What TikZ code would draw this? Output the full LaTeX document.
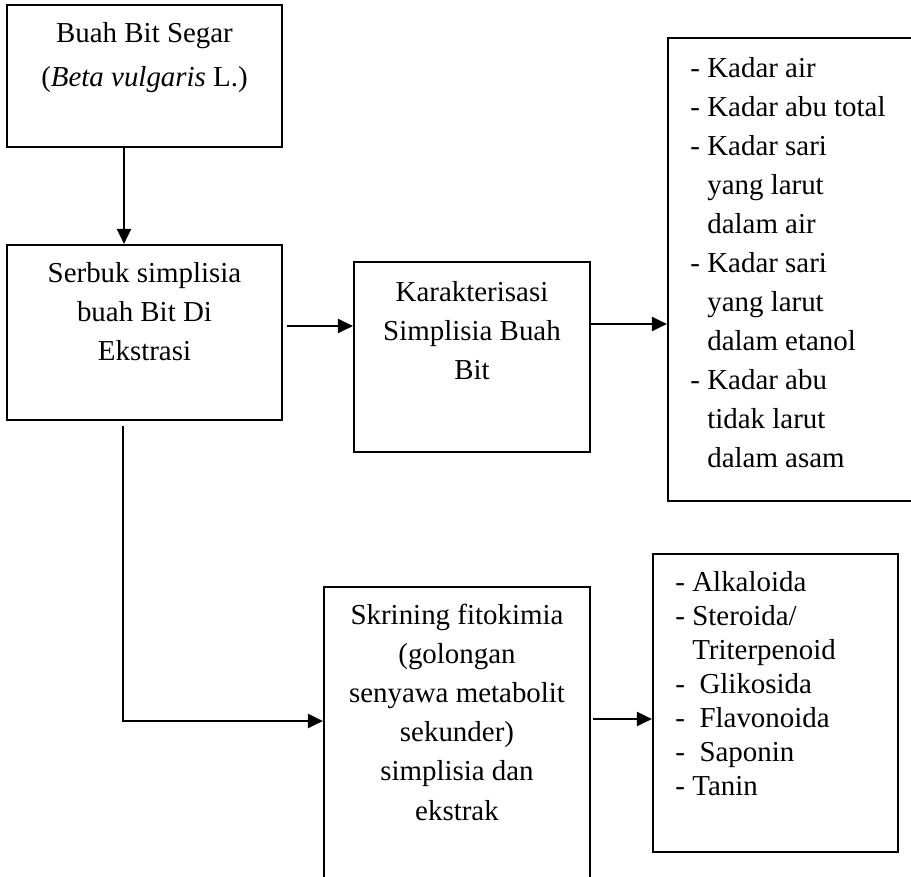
\documentclass[tikz,border=0pt]{standalone}
\usepackage{fontspec}
\setmainfont{Liberation Serif}
\usetikzlibrary{arrows.meta}
\newdimen\pxl
\pxl=0.415pt

\begin{document}
\begin{tikzpicture}[x=0.415pt, y=-0.415pt,
  kotak/.style={draw, line width=0.9pt, inner sep=0pt},
  teks/.style={inner sep=0pt, anchor=north, align=center, font=\fontsize{12}{#1}\selectfont},
  teks/.default=16.2pt,
  daftar/.style={inner sep=0pt, anchor=north west, align=left, font=\fontsize{12}{#1}\selectfont},
  panah/.style={line width=1pt, -{Triangle[length=6.2pt, width=5.8pt]}}]
  \useasboundingbox (0,0) rectangle (911,877);
  \clip (0,0) rectangle (911,877);

  % Kotak
  \node[kotak, minimum width=275\pxl, minimum height=142\pxl] (buah) at (144.5,76) {};
  \node[kotak, minimum width=275\pxl, minimum height=175\pxl] (serbuk) at (144.5,332.5) {};
  \node[kotak, minimum width=236\pxl, minimum height=190\pxl] (karak) at (472,357) {};
  \node[kotak, minimum width=272\pxl, minimum height=463\pxl] (kadar) at (804,269.5) {};
  \node[kotak, minimum width=266\pxl, minimum height=318\pxl] (skrin) at (457,746) {};
  \node[kotak, minimum width=245\pxl, minimum height=298\pxl] (senyawa) at (775.5,703) {};

  % Teks
  \node[teks=18.3pt] (tbuah) at (144.5,22) {Buah Bit Segar\\(\textit{Beta vulgaris} L.)};
  \node[teks] (tserbuk) at (144.5,262) {Serbuk simplisia\\buah Bit Di\\Ekstrasi};
  \node[teks] (tkarak) at (472,281) {Karakterisasi\\Simplisia Buah\\Bit};
  \node[teks] (tskrin) at (457,604) {Skrining fitokimia\\(golongan\\senyawa metabolit\\sekunder)\\simplisia dan\\ekstrak};
  \node[daftar=16.2pt] (tkadar) at (690,57) {- Kadar air\\- Kadar abu total\\- Kadar sari\\
    \phantom{- }yang larut\\\phantom{- }dalam air\\- Kadar sari\\\phantom{- }yang larut\\
    \phantom{- }dalam etanol\\- Kadar abu\\\phantom{- }tidak larut\\\phantom{- }dalam asam};
  \node[daftar=14.1pt] (tsenyawa) at (675,571) {- Alkaloida\\- Steroida/\\\phantom{- }Triterpenoid\\
    -\ \ Glikosida\\-\ \ Flavonoida\\-\ \ Saponin\\- Tanin};

  % Titik bantu panah
  \coordinate (p1) at ([shift={(4,-6.5)}]serbuk.east);
  \coordinate (p2) at ([yshift=33\pxl]karak.east);
  \coordinate (p3) at ([shift={(-21.5,5)}]serbuk.south);
  \coordinate (p4) at ([yshift=25\pxl]skrin.west);
  \coordinate (p5) at ([shift={(2,-27)}]skrin.east);

  % Panah
  \draw[panah] ([xshift=-20.5\pxl]buah.south) -- ([xshift=-20.5\pxl]serbuk.north);
  \draw[panah] (p1) -- (p1 -| karak.west);
  \draw[panah] (p2) -- (p2 -| kadar.west);
  \draw[panah] (p3) |- (p4);
  \draw[panah] (p5) -- (p5 -| senyawa.west);
\end{tikzpicture}
\end{document}
